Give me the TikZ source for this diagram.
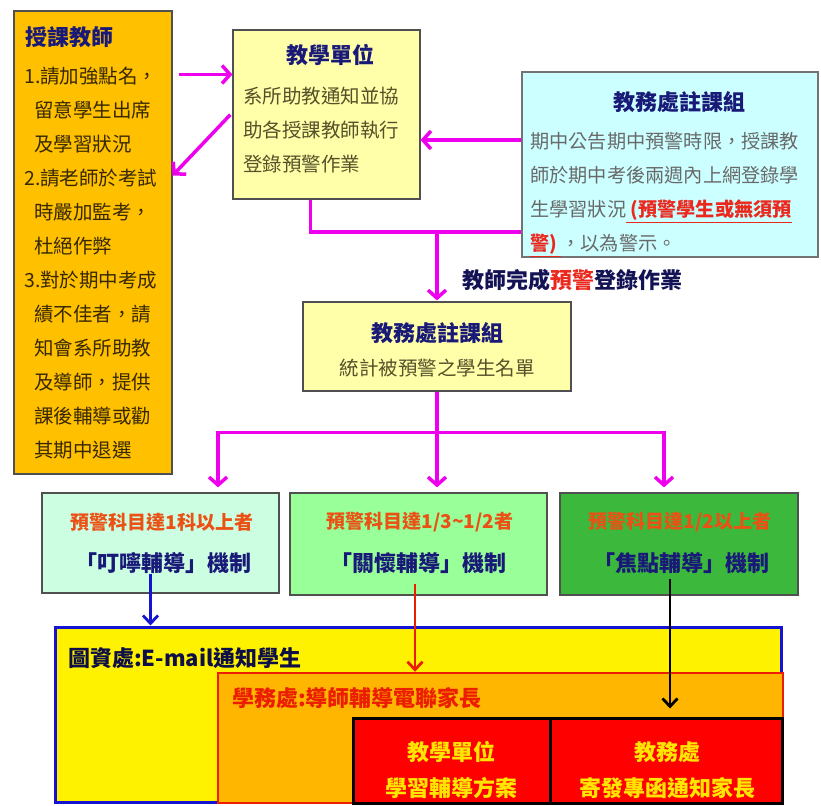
\documentclass[tikz,border=0pt]{standalone}
\usepackage{fontspec}
\setmainfont{Noto Sans CJK TC}
\usetikzlibrary{arrows.meta,calc}
\definecolor{flowpink}{RGB}{238,0,238}
\definecolor{boxgray}{RGB}{80,80,80}
\definecolor{orangebox}{RGB}{255,192,0}
\definecolor{paleyellow}{RGB}{255,255,170}
\definecolor{palecyan}{RGB}{204,255,255}
\definecolor{mint}{RGB}{204,255,226}
\definecolor{lightgreen}{RGB}{153,255,153}
\definecolor{midgreen}{RGB}{60,185,60}
\definecolor{navy}{RGB}{25,25,120}
\definecolor{bodyolive}{RGB}{85,80,40}
\definecolor{bodygray}{RGB}{105,105,105}
\definecolor{darkbrown}{RGB}{55,40,0}
\definecolor{warnred}{RGB}{235,40,30}
\definecolor{warnorange}{RGB}{235,80,20}
\definecolor{mailblue}{RGB}{20,20,210}
\definecolor{officered}{RGB}{235,30,0}
\definecolor{officeorange}{RGB}{255,182,0}
\definecolor{alarmred}{RGB}{255,0,0}
\definecolor{goldtext}{RGB}{255,230,0}

\begin{document}
\begin{tikzpicture}
      [x = 1pt, y = -1pt,
      box/.style= {
         draw = boxgray,
         line width = 1.2pt,
         inner sep = 0pt
      },
      heading/.style= {
         font = \fontsize{22}{26}\selectfont\bfseries,
         text = navy,
         inner sep = 0pt
      },
      body/.style= {
         font = \fontsize{19.5}{34}\selectfont,
         text = bodyolive,
         align = left,
         inner sep = 0pt
      },
      warn/.style= {
         font = \fontsize{19}{22}\selectfont\bfseries,
         text = warnorange,
         inner sep = 0pt
      },
      mech/.style= {
         font = \fontsize{22}{26}\selectfont\bfseries,
         text = navy,
         inner sep = 0pt
      },
      flow/.style = {draw = flowpink, line width = 3.5pt,
         -{Straight Barb[length = 8pt, width = 18pt]}},
      flowline/.style = {draw = flowpink, line width = 3.5pt},
      drop/.style = {line width = 2.8pt,
         -{Straight Barb[length = 8pt, width = 15pt]}}]
      \useasboundingbox (0, 0) rectangle (821, 805);

      % teacher
      \node[box, fill = orangebox, minimum width = 158pt, minimum height = 463pt] (teacher) at (93, 242.5) {};
      \node[heading, anchor = west] (teachertitle) at (25, 37) {授課教師};
      \node[body, anchor = north west, text = darkbrown] (teacherbody) at (24, 67)
         {1.請加強點名，\\ \hspace*{10pt}留意學生出席\\ \hspace*{10pt}及學習狀況\\
          2.請老師於考試\\ \hspace*{10pt}時嚴加監考，\\ \hspace*{10pt}杜絕作弊\\
          3.對於期中考成\\ \hspace*{10pt}績不佳者，請\\ \hspace*{10pt}知會系所助教\\
          \hspace*{10pt}及導師，提供\\ \hspace*{10pt}課後輔導或勸\\ \hspace*{10pt}其期中退選};

      % unit
      \node[box, fill = paleyellow, minimum width = 187pt, minimum height = 169pt] (unit) at (326.5, 114.5) {};
      \node[heading] (unittitle) at (330, 55) {教學單位};
      \node[body, anchor = north west] (unitbody) at (243, 87)
         {系所助教通知並協\\助各授課教師執行\\登錄預警作業};

      % registry, top
      \node[box, draw = boxgray!80, line width = 1.5pt, fill = palecyan, minimum width = 296pt, minimum height = 185pt] (regtop) at (670, 164.5) {};
      \node[heading] (regtoptitle) at (679, 102) {教務處註課組};
      \node[body, anchor = north west, text = bodygray, font = \fontsize{19.2}{34}\selectfont] (regtopbody) at (530, 132)
         {期中公告期中預警時限，授課教\\師於期中考後兩週內上網登錄學\\
          生學習狀況\textcolor{warnred}{\bfseries\underline{~(預警學生或無須預}}\\
          \textcolor{warnred}{\bfseries\underline{警)~}}，以為警示。};

      % registry, middle
      \node[box, fill = paleyellow, minimum width = 268pt, minimum height = 89pt] (regmid) at (437, 346.5) {};
      \node[heading] (regmidtitle) at (437, 333) {教務處註課組};
      \node[body] (regmidbody) at (437, 368) {統計被預警之學生名單};
      \node[heading, anchor = west, text = navy!70!black] (done) at (462, 280)
         {教師完成\textcolor{warnred}{預警}登錄作業};

      % three levels
      \node[box, fill = mint, minimum width = 237pt, minimum height = 100pt] (g1) at (160.5, 543) {};
      \node[warn] (g1warn) at (162, 522) {預警科目達1科以上者};
      \node[mech] (g1mech) at (163, 563) {「叮嚀輔導」機制};
      \node[box, fill = lightgreen, minimum width = 257pt, minimum height = 102pt] (g2) at (418.5, 544) {};
      \node[warn] (g2warn) at (420, 522) {預警科目達1/3\textasciitilde1/2者};
      \node[mech] (g2mech) at (418, 563) {「關懷輔導」機制};
      \node[box, fill = midgreen, minimum width = 238pt, minimum height = 102pt] (g3) at (679, 544) {};
      \node[warn] (g3warn) at (680, 522) {預警科目達1/2以上者};
      \node[mech] (g3mech) at (681, 563) {「焦點輔導」機制};

      % actions
      \node[draw = mailblue, line width = 3pt, fill = yellow, minimum width = 726pt, minimum height = 175pt] (mail) at (418, 714.5) {};
      \node[heading, anchor = west, text = navy!60!black] (mailtext) at (68, 658) {圖資處:E-mail通知學生};
      \node[draw = officered, line width = 2.5pt, fill = officeorange, minimum width = 565pt, minimum height = 130pt] (office) at (500.5, 738) {};
      \node[heading, anchor = west, text = officered] (officetext) at (232, 698) {學務處:導師輔導電聯家長};
      \node[draw = black, line width = 3pt, fill = alarmred, minimum width = 197pt, minimum height = 85pt] (plan) at (451.5, 760.5) {};
      \node[heading, text = goldtext] (plantop) at (451.5, 752) {教學單位};
      \node[heading, text = goldtext] (planbot) at (451.5, 788) {學習輔導方案};
      \node[draw = black, line width = 3pt, fill = alarmred, minimum width = 232pt, minimum height = 85pt] (letter) at (666, 760.5) {};
      \node[heading, text = goldtext] (lettertop) at (667, 752) {教務處};
      \node[heading, text = goldtext] (letterbot) at (667, 788) {寄發專函通知家長};

      % pink flow
      \coordinate (u1) at ([yshift = 40pt]unit.west);
      \draw[flow, shorten <= 6pt] (teacher.east |- u1) -- (u1);
      \coordinate (t2) at ([yshift = 67pt]teacher.east);
      \draw[flow, shorten <= 3pt] ([yshift = 2pt]unit.west) -- (t2);
      \coordinate (c1) at ([yshift = 24.5pt]regtop.west);
      \draw[flow] (c1) -- (unit.east |- c1);
      \coordinate (m1) at ([yshift = -67.5pt]regtop.west);
      \draw[flowline] ([xshift = -16pt]unit.south) |- (m1);
      \draw[flow, shorten >= 1pt] (regmid.north |- m1) -- (regmid.north);

      \coordinate (split) at ($(regmid.south) + (0, 41)$);
      \draw[flowline] (regmid.south) -- (split);
      \draw[flow, shorten >= 5pt] (split) -| ([xshift = 57.5pt]g1.north);
      \draw[flow, shorten >= 5pt] (split) -| ([xshift = -15pt]g3.north);
      \draw[flow, shorten >= 5pt] (split) -- (split |- g2.north);

      % drops
      \coordinate (d1) at ([xshift = -10pt, yshift = 20pt]g1.south);
      \draw[drop, mailblue] (d1) -- (d1 |- mail.north);
      \coordinate (d2) at ([xshift = -3.5pt, yshift = 12pt]g2.south);
      \draw[drop, officered] (d2) -- (d2 |- office.north);
      \coordinate (d3) at ([xshift = -9pt, yshift = 17pt]g3.south);
      \draw[drop, black, shorten >= 8pt] (d3) -- (d3 |- letter.north);

   \end{tikzpicture}
\end{document}
